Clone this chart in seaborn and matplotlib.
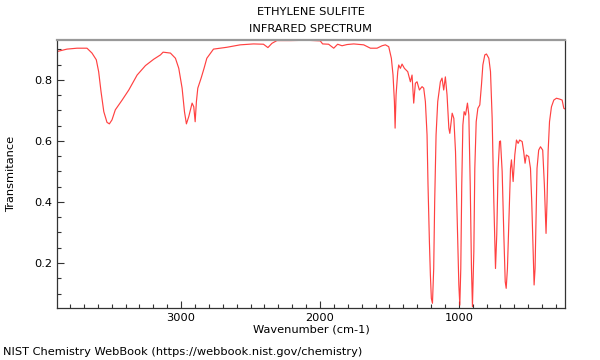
import pandas as pd
import matplotlib
matplotlib.use("Agg")
import matplotlib.pyplot as plt
import seaborn as sns
from matplotlib.ticker import MultipleLocator

# Spectrum (wavenumber in cm-1, transmittance)
wavenumber = [
    3894, 3822, 3750, 3678, 3642, 3611, 3594, 3577, 3557, 3534, 3517, 3498,
    3474, 3425, 3377, 3317, 3257, 3197, 3149, 3130, 3077, 3041, 3017, 2993,
    2976, 2962, 2945, 2921, 2909, 2899, 2890, 2880, 2856, 2835, 2815, 2767,
    2671, 2575, 2479, 2407, 2375, 2346, 2310, 2214, 2094, 1998, 1981, 1938,
    1901, 1873, 1841, 1805, 1757, 1685, 1637, 1589, 1553, 1529, 1505, 1486,
    1474, 1464, 1459, 1452, 1440, 1433, 1421, 1409, 1392, 1368, 1349, 1337,
    1325, 1313, 1301, 1284, 1265, 1253, 1241, 1229, 1222, 1212, 1205, 1198,
    1190, 1181, 1174, 1164, 1152, 1133, 1121, 1109, 1097, 1085, 1072, 1065,
    1058, 1048, 1036, 1024, 1012, 1000, 993, 986, 979, 971, 962, 952,
    938, 928, 918, 909, 902, 892, 885, 875, 863, 849, 837, 827,
    813, 801, 784, 772, 760, 748, 736, 727, 717, 707, 700, 688,
    676, 666, 659, 650, 640, 628, 621, 609, 597, 585, 573, 562,
    544, 533, 523, 514, 497, 484, 475, 465, 458, 451, 444, 437,
    425, 412, 396, 384, 372, 365, 357, 347, 333, 316, 297, 273,
    256, 244, 236,
]
transmittance = [
    0.893, 0.901, 0.904, 0.904, 0.888, 0.866, 0.827, 0.762, 0.696, 0.661, 0.656, 0.669,
    0.702, 0.734, 0.767, 0.816, 0.847, 0.868, 0.882, 0.891, 0.888, 0.871, 0.838, 0.773,
    0.696, 0.656, 0.680, 0.724, 0.712, 0.663, 0.729, 0.773, 0.806, 0.838, 0.871, 0.901,
    0.907, 0.915, 0.918, 0.917, 0.906, 0.920, 0.929, 0.929, 0.930, 0.928, 0.918, 0.917,
    0.904, 0.917, 0.912, 0.916, 0.918, 0.915, 0.904, 0.904, 0.912, 0.915, 0.909, 0.871,
    0.816, 0.729, 0.642, 0.751, 0.827, 0.849, 0.838, 0.852, 0.838, 0.827, 0.794, 0.816,
    0.724, 0.789, 0.794, 0.767, 0.778, 0.773, 0.729, 0.620, 0.456, 0.270, 0.161, 0.084,
    0.068, 0.182, 0.401, 0.620, 0.729, 0.794, 0.806, 0.767, 0.810, 0.751, 0.642, 0.625,
    0.652, 0.691, 0.674, 0.565, 0.347, 0.128, 0.062, 0.182, 0.456, 0.652, 0.696, 0.685,
    0.724, 0.685, 0.456, 0.182, 0.057, 0.237, 0.510, 0.663, 0.707, 0.718, 0.784, 0.849,
    0.882, 0.885, 0.871, 0.827, 0.674, 0.401, 0.182, 0.292, 0.510, 0.598, 0.600, 0.500,
    0.292, 0.139, 0.117, 0.182, 0.336, 0.510, 0.538, 0.467, 0.554, 0.603, 0.592, 0.603,
    0.598, 0.565, 0.527, 0.554, 0.549, 0.510, 0.401, 0.237, 0.128, 0.182, 0.347, 0.510,
    0.570, 0.581, 0.570, 0.456, 0.297, 0.401, 0.565, 0.663, 0.712, 0.734, 0.740, 0.737,
    0.734, 0.707, 0.705,
]

df = pd.DataFrame({"wavenumber": wavenumber, "transmittance": transmittance})

sns.set_style("ticks")
plt.rcParams["font.family"] = ["DejaVu Sans"]
plt.rcParams["text.color"] = "black"
fs = 8.2

fig = plt.figure(figsize=(6, 3.6), dpi=100)
ax = fig.add_axes([0.095, 0.144, 0.847, 0.745])

sns.lineplot(data=df, x="wavenumber", y="transmittance", ax=ax,
             color="#ff2020", linewidth=0.85, alpha=0.85, sort=False)

ax.set_xlim(3894, 234)
ax.set_ylim(0.052, 0.931)
ax.set_xticks([3000, 2000, 1000])
ax.xaxis.set_minor_locator(MultipleLocator(100))
ax.set_yticks([0.2, 0.4, 0.6, 0.8])
ax.yaxis.set_minor_locator(MultipleLocator(0.05))
ax.tick_params(which="both", direction="in", colors="#333333", labelcolor="black",
               labelsize=fs, top=False, right=False)
ax.tick_params(which="major", length=5, width=0.8)
ax.tick_params(which="minor", length=3, width=0.8)

for side in ["left", "bottom", "right"]:
    ax.spines[side].set_color("#333333")
    ax.spines[side].set_linewidth(0.9)
ax.spines["top"].set_color("#999999")
ax.spines["top"].set_linewidth(1.6)

ax.set_xlabel("Wavenumber (cm-1)", fontsize=fs, labelpad=1, color="black")
ax.set_ylabel("Transmitance", fontsize=fs, color="black")
ax.yaxis.set_label_coords(-0.080, 0.5)

fig.text(0.518, 0.967, "ETHYLENE SULFITE", ha="center", va="center", fontsize=fs)
fig.text(0.518, 0.919, "INFRARED SPECTRUM", ha="center", va="center", fontsize=fs)
fig.text(0.005, 0.022, "NIST Chemistry WebBook (https://webbook.nist.gov/chemistry)",
         ha="left", va="center", fontsize=fs)

fig.savefig("out.png", dpi=100)
